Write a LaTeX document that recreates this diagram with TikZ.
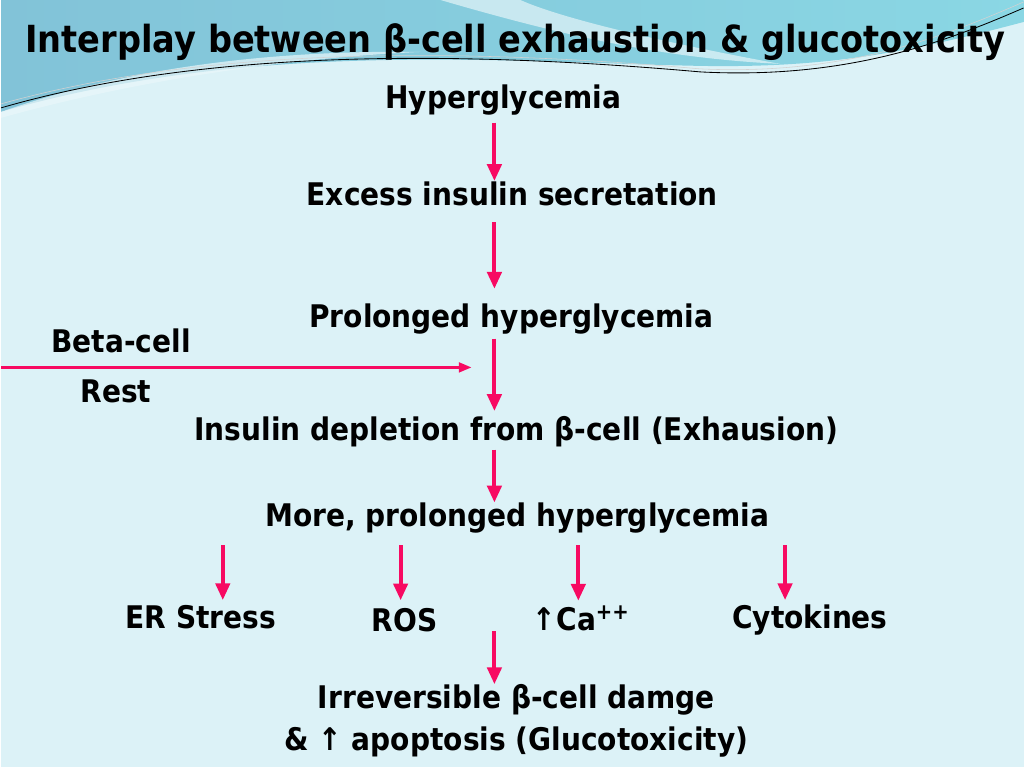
\documentclass[tikz,border=0pt]{standalone}
\usepackage{fontspec}
\setmainfont{DejaVu Sans}[FakeStretch=0.9]
\usetikzlibrary{arrows.meta}
\definecolor{bgc}{HTML}{DCF2F7}
\definecolor{bandL}{HTML}{82C3D8}
\definecolor{bandR}{HTML}{8AD7E4}
\definecolor{arc}{HTML}{F70A62}
\definecolor{thin}{HTML}{3FB3C4}
\tikzset{
    TT/.style ={inner sep=0pt, text height=17pt, text depth=2pt, font=\bfseries\fontsize{22.2}{26}\selectfont},
    TI/.style ={inner sep=0pt, font=\bfseries\fontsize{26.6}{30}\selectfont},
    AR/.style ={draw=arc, line width=2.9pt, -{Triangle[length=12pt,width=10pt]}},
    AH/.style ={draw=arc, line width=1.7pt, -{Triangle[length=9pt,width=7pt]}}}
\begin{document}
\begin{tikzpicture}[x=0.025cm, y=-0.025cm]
        \fill[bgc] (0,0) rectangle (1024,768);
        \shade[left color=bandL, right color=bandR] (0,0) -- (1024,0) -- (1024,22)
            .. controls (900,55) and (820,68) .. (700,66)
            .. controls (500,62) and (250,40) .. (0,112) -- cycle;
        \fill[white, opacity=0.55] (440,0) .. controls (560,35) and (660,58) .. (780,64)
            .. controls (660,42) and (560,18) .. (520,0) -- cycle;
        \fill[bgc!60!white, opacity=0.7] (0,112) .. controls (120,70) and (260,50) .. (420,52)
            .. controls (250,60) and (100,90) .. (0,118) -- cycle;
        \draw[thin, line width=0.6pt] (0,108) .. controls (200,50) and (450,50) .. (700,72)
            .. controls (850,80) and (950,40) .. (1024,8);
        \draw[gray!35, line width=0.4pt] (0,104) .. controls (200,48) and (450,47) .. (700,69)
            .. controls (850,76) and (950,34) .. (1024,2);
        \node[TI] (title) at (515,42) {Interplay between β-cell exhaustion \& glucotoxicity};
        \coordinate (ax) at (494,0);
        \node[TT] (hyp) at (503,98) {Hyperglycemia};
        \node[TT] (exc) at (512,195) {Excess insulin secretation};
        \node[TT] (pro) at (511,317) {Prolonged hyperglycemia};
        \node[TT] (ins) at (516,431) {Insulin depletion from β-cell (Exhausion)};
        \node[TT] (more) at (517,517) {More, prolonged hyperglycemia};
        \node[TT] (beta) at (120,343) {Beta-cell};
        \node[TT] (rest) at (115,393) {Rest};
        \node[TT] (er) at (200,619) {ER Stress};
        \node[TT] (ros) at (404,622) {ROS};
        \node[TT] (ca) at (581,621) {↑Ca\textsuperscript{++}};
        \node[TT] (cyt) at (810,619) {Cytokines};
        \node[TT] (irr1) at (516,699) {Irreversible β-cell damge};
        \node[TT] (irr2) at (516,741) {\& ↑ apoptosis (Glucotoxicity)};
        \coordinate (rs) at (0,368);
        \coordinate (re) at (471,368);
        \coordinate (mid) at (494,632);
        \draw[AR, shorten <=8pt] (hyp.south -| ax) -- (exc.north -| ax);
        \draw[AR, shorten <=10pt, shorten >=10pt] (exc.south -| ax) -- (pro.north -| ax);
        \draw[AR, shorten <=6pt, shorten >=4pt] (pro.south -| ax) -- (ins.north -| ax);
        \draw[AR, shorten <=4pt] (ins.south -| ax) -- (more.north -| ax);
        \draw[AR, shorten <=11pt, shorten >=3pt] (more.south -| er.north) ++(15.6pt,0) -- ([xshift=15.6pt]er.north);
        \draw[AR, shorten <=11pt, shorten >=5pt] (more.south -| ros.north) ++(-2.8pt,0) -- ([xshift=-2.8pt]ros.north);
        \draw[AR, shorten <=11pt, shorten >=4pt] (more.south -| ca.north) ++(-2.1pt,0) -- ([xshift=-2.1pt]ca.north);
        \draw[AR, shorten <=11pt, shorten >=3pt] (more.south -| cyt.north) ++(-17.7pt,0) -- ([xshift=-17.7pt]cyt.north);
        \draw[AR] (mid) -- (irr1.north -| ax);
        \draw[AH] (rs) -- (re);
\end{tikzpicture}
\end{document}
